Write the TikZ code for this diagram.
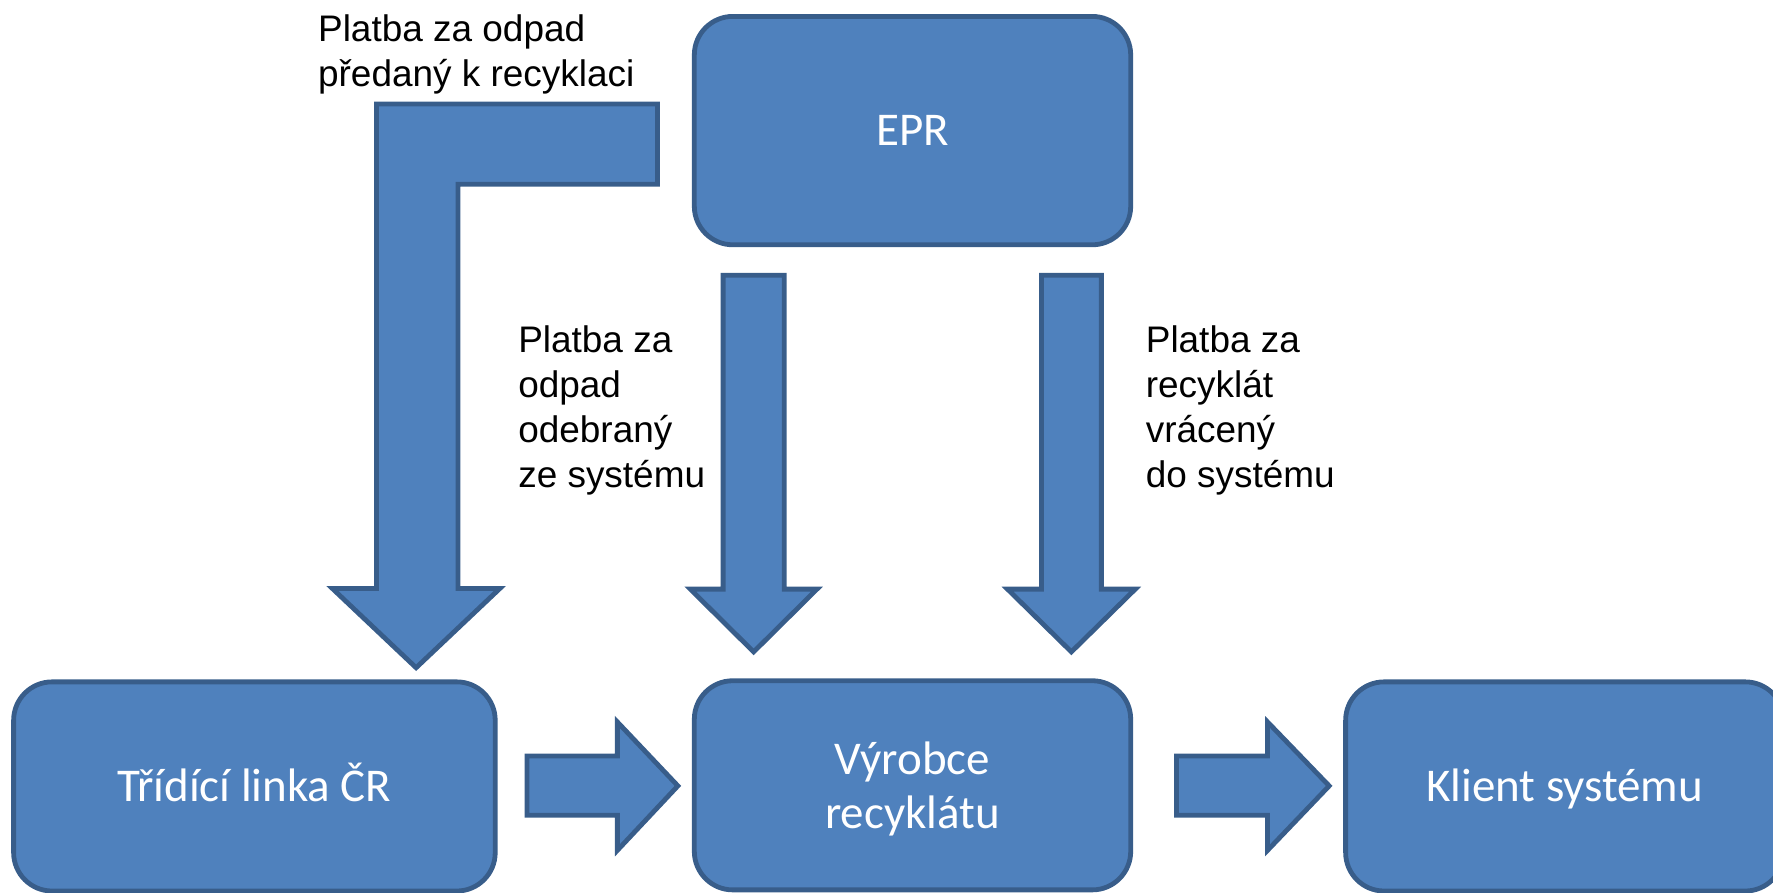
\documentclass[tikz,border=0pt]{standalone}
\usepackage{fontspec}
\newfontfamily\labfont{Liberation Sans}
\newfontfamily\boxfont{Carlito}
\definecolor{boxfill}{HTML}{4F81BD}
\definecolor{boxline}{HTML}{385D8A}
\begin{document}
\begin{tikzpicture}[x=0.02cm,y=-0.02cm,
  blk/.style={draw=boxline,fill=boxfill,line width=0.085cm,line join=miter},
  box/.style={blk,rectangle,rounded corners=0.68cm,inner sep=0pt,
    text=white,font=\boxfont\fontsize{23.65}{27.3}\selectfont,align=center},
  boxtext/.style={inner sep=0pt,text=white,align=center,
    font=\boxfont\fontsize{23.65}{27.3}\selectfont},
  oneline/.style={text height=15.2pt,text depth=0pt},
  lab/.style={anchor=north west,inner sep=0pt,align=left,
    font=\labfont\fontsize{18.6}{22.7}\selectfont}]
\clip (0,0) rectangle (1568,789);
\useasboundingbox (0,0) rectangle (1568,789);
% boxes
\node[box,oneline,minimum width=7.72cm,minimum height=4.04cm] (epr) at (807,115.5) {EPR};
\node[box,oneline,minimum width=8.52cm,minimum height=3.7cm] (tri) at (225,695.5) {Třídící linka ČR};
\node[box,minimum width=7.72cm,minimum height=3.7cm] (vyr) at (807,694.5) {};
\node[boxtext] (vyrtext) at (807,698) {Výrobce\\recyklátu};
\node[box,oneline,minimum width=7.75cm,minimum height=3.7cm] (kli) at (1383.75,695.5) {Klient systému};
% L-shaped block arrow
\draw[blk] (333,92) -- (581.5,92) -- (581.5,163) -- (405,163) -- (405,520.5)
  -- (442,520.5) -- (368,590.5) -- (294,520.5) -- (333,520.5) -- cycle;
% down block arrows
\draw[blk] (639.5,243.5) -- (693.5,243.5) -- (693.5,521) -- (722.5,521) -- (666.5,576.5)
  -- (610.5,521) -- (639.5,521) -- cycle;
\draw[blk] (921,243.5) -- (974,243.5) -- (974,521) -- (1004,521) -- (947.5,576.5)
  -- (891,521) -- (921,521) -- cycle;
% right block arrows
\draw[blk] (466,668.5) -- (546,668.5) -- (546,638.5) -- (599.5,695) -- (546,752)
  -- (546,721) -- (466,721) -- cycle;
\draw[blk] (1040.5,668.5) -- (1121,668.5) -- (1121,638.5) -- (1175.5,695) -- (1121,752)
  -- (1121,721) -- (1040.5,721) -- cycle;
% labels
\node[lab] (l1) at (281,13) {Platba za odpad\\předaný k recyklaci};
\node[lab] (l2) at (458,287.5) {Platba za\\odpad\\odebraný\\ze systému};
\node[lab] (l3) at (1013,287.5) {Platba za\\recyklát\\vrácený\\do systému};
\end{tikzpicture}
\end{document}
